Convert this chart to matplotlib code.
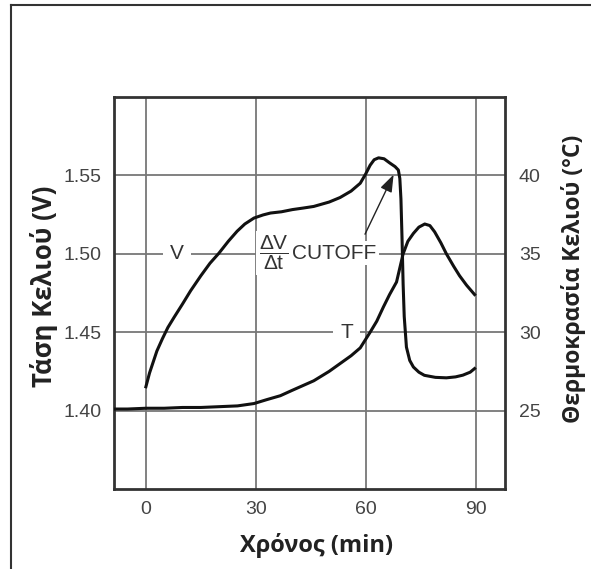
import matplotlib
matplotlib.use("Agg")
import matplotlib.pyplot as plt
from matplotlib.lines import Line2D

plt.rcParams['font.family'] = ['Liberation Sans', 'DejaVu Sans']
plt.rcParams['mathtext.fontset'] = 'custom'
plt.rcParams['mathtext.rm'] = 'Liberation Sans'
plt.rcParams['mathtext.default'] = 'regular'

# cell voltage (left axis)
t_v = [0, 1, 2, 3, 4.5, 6, 7.7, 10, 12.2, 15, 17.5, 19.9, 22.5, 24.9, 27, 29.5,
       32, 34, 37, 40, 43, 45.8, 50, 53, 56, 58.5, 60, 61.2, 62.3, 63.5, 65,
       66.5, 68, 68.9, 69.3, 69.6, 69.9, 70.2, 70.5, 71.1, 72, 73, 74.5, 76,
       79, 82, 84.5, 86.5, 88.5, 89.7]
volts = [1.4152, 1.424, 1.431, 1.438, 1.4458, 1.453, 1.4595, 1.468, 1.4764, 1.486,
         1.494, 1.5003, 1.508, 1.5144, 1.519, 1.5228, 1.5248, 1.526, 1.5268, 1.5282,
         1.5292, 1.5302, 1.533, 1.5359, 1.540, 1.545, 1.551, 1.5565, 1.5600, 1.5612,
         1.5606, 1.558, 1.5556, 1.5534, 1.548, 1.535, 1.51, 1.4806, 1.46, 1.4405,
         1.432, 1.4278, 1.4245, 1.4225, 1.4212, 1.4209, 1.4215, 1.4226, 1.4245, 1.4268]

# cell temperature (right axis)
t_temp = [-8.7, -5, 0, 5, 10, 15, 20, 25, 29.5, 33, 36.7, 40, 45.8, 50, 53, 56,
          58.5, 61.2, 63, 64.8, 66.5, 68.4, 70.2, 71.5, 73, 74.5, 76.1, 77.5,
          78.8, 80.5, 82, 84, 85.6, 87.5, 89.7]
temps = [25.1, 25.1, 25.15, 25.15, 25.2, 25.2, 25.25, 25.3, 25.45, 25.7, 25.95,
         26.3, 26.9, 27.5, 28.0, 28.5, 29.0, 30.0, 30.7, 31.6, 32.4, 33.2, 35.0,
         35.8, 36.3, 36.7, 36.9, 36.8, 36.4, 35.7, 35.0, 34.2, 33.6, 33.0, 32.4]

xticks = [0, 30, 60, 90]
vticks = [1.40, 1.45, 1.50, 1.55]
tticks = [25, 30, 35, 40]

fig = plt.figure(figsize=(5.91, 5.69), dpi=100)
ax = fig.add_axes([114/591, 1-489/569, 391/591, 392/569])

ax.plot(t_v, volts, color='#111', lw=2.2, zorder=4, solid_joinstyle='round')
ax.set_xlim(-8.7, 98)
ax.set_ylim(1.35, 1.60)
ax.set_xticks(xticks)
ax.set_yticks(vticks)
ax.set_yticklabels(['%.2f' % v for v in vticks])
ax.grid(True, color='#777777', lw=1.3)
ax.set_axisbelow(True)
ax.tick_params(length=0, labelsize=14, labelcolor='#444', pad=9)
for s in ax.spines.values():
    s.set_color('#333')
    s.set_linewidth(2)

ax2 = ax.twinx()
ax2.plot(t_temp, temps, color='#111', lw=2.2, zorder=4, solid_joinstyle='round')
ax2.set_ylim(20, 45)
ax2.set_yticks(tticks)
ax2.tick_params(length=0, labelsize=14, labelcolor='#444', pad=10)
for s in ax2.spines.values():
    s.set_visible(False)

# labels sitting on the gridlines
box = dict(facecolor='white', edgecolor='none', pad=5)
ax.text(8.5, 1.50, 'V', fontsize=15, color='#333', ha='center', va='center', bbox=box, zorder=3)
ax.text(54.8, 1.45, 'T', fontsize=15, color='#333', ha='center', va='center', bbox=box, zorder=3)
ax.text(34.9, 1.5005, r'$\dfrac{\Delta V}{\Delta t}$', fontsize=15, color='#333',
        ha='center', va='center', bbox=dict(facecolor='white', edgecolor='none', pad=2), zorder=3)
ax.text(40.0, 1.5005, 'CUTOFF', fontsize=15, color='#333', ha='left', va='center',
        bbox=dict(facecolor='white', edgecolor='none', pad=2), zorder=3)
ax.annotate('', xy=(67.6, 1.5505), xytext=(59.8, 1.5125),
            arrowprops=dict(arrowstyle='-|>,head_length=0.7,head_width=0.25',
                            color='#222', lw=1, mutation_scale=15, shrinkA=0, shrinkB=0),
            zorder=5)

lab = dict(family=['Open Sans', 'DejaVu Sans'], fontweight='bold', color='#222')
fig.text(317/591, 1-546/569, 'Χρόνος (min)', ha='center', va='center', fontsize=17, **lab)
fig.text(44/591, 1-286/569, 'Τάση Κελιού (V)', ha='center', va='center', rotation=90,
         fontsize=18.5, **lab)
fig.text(573/591, 1-279/569, 'Θερμοκρασία Κελιού (°C)', ha='center', va='center', rotation=90,
         fontsize=16.5, **lab)

# outer frame of the picture
fig.add_artist(Line2D([11/591, 11/591], [0, 1-5/569], color='#333', lw=1.5))
fig.add_artist(Line2D([11/591, 1], [1-5/569, 1-5/569], color='#333', lw=1.5))

fig.savefig('out.png', dpi=100)
